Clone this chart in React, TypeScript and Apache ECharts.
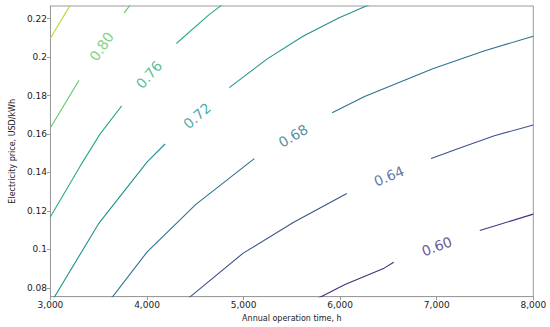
import React, { useEffect, useRef } from "react";
import * as echarts from "echarts";

// Axis ranges and ticks
const xRange = [3000, 8000];
const yRange = [0.0754, 0.2266];
const xTicks = [3000, 4000, 5000, 6000, 7000, 8000];
const yTicks = [0.08, 0.1, 0.12, 0.14, 0.16, 0.18, 0.2, 0.22];

// Contour levels (value of the plotted quantity)
const contourLevels = [0.6, 0.64, 0.68, 0.72, 0.76, 0.8, 0.84];

// Contour paths: [operation time h, price USD/kWh]
// Each level: segment before the inline label, segment after it
const level060Before = [[5770, 0.0745], [5817, 0.0757], [6050, 0.0817], [6455, 0.0902], [6555, 0.0933]];
const level060After = [[7446, 0.1098], [8000, 0.1183]];
const level064Before = [[4427, 0.0745], [4993, 0.0979], [5514, 0.114], [6069, 0.129]];
const level064After = [[6942, 0.1472], [7261, 0.1531], [7597, 0.1591], [8000, 0.1647]];
const level068Before = [[3631, 0.0745], [4002, 0.0987], [4506, 0.1234], [5111, 0.1472]];
const level068After = [[5917, 0.171], [6253, 0.1795], [6959, 0.194], [7496, 0.2033], [8000, 0.2109]];
const level072Before = [[3027, 0.074], [3497, 0.1132], [4002, 0.1455], [4187, 0.1548]];
const level072After = [[4852, 0.1841], [5245, 0.1991], [5615, 0.2109], [5984, 0.2203], [6311, 0.2275]];
const level076Before = [[3000, 0.1169], [3309, 0.1434], [3511, 0.1598], [3738, 0.1746]];
const level076After = [[4304, 0.2071], [4640, 0.222], [4785, 0.2275]];
const level080Before = [[3000, 0.1633], [3296, 0.188]];
const level080After = [[3763, 0.223], [3832, 0.2275]];
const level084Only = [[3000, 0.2098], [3210, 0.2275]];

const contourSegments = [
  [level060Before, level060After],
  [level064Before, level064After],
  [level068Before, level068After],
  [level072Before, level072After],
  [level076Before, level076After],
  [level080Before, level080After],
  [level084Only],
];

// Styles
const levelColors = ["#472c7a", "#3b528b", "#2c728e", "#21918c", "#28ae80", "#5ec962", "#addc30"];
const FONT = "DejaVu Sans";
const FRAME = "#9a9a9a";
const TEXT = "#222222";

export default function App() {
  const ref = useRef<HTMLDivElement>(null);

  useEffect(() => {
    const chart = echarts.init(ref.current!, null, { renderer: "svg" });

    const lineSeries: any[] = [];
    contourSegments.forEach((segs, i) => {
      segs.forEach((seg) => {
        lineSeries.push({
          type: "line",
          data: seg,
          showSymbol: false,
          symbol: "none",
          clip: true,
          silent: true,
          lineStyle: { color: levelColors[i], width: 1.1 },
          emphasis: { disabled: true },
          z: 2,
        });
      });
    });

    const baseOption: any = {
      animation: false,
      grid: {
        left: 37.3,
        right: 16.7,
        top: 6,
        bottom: 25.3,
        show: true,
        borderColor: FRAME,
        borderWidth: 1,
        backgroundColor: "#ffffff",
      },
      xAxis: {
        type: "value",
        min: xRange[0],
        max: xRange[1],
        interval: 1000,
        name: "Annual operation time, h",
        nameLocation: "middle",
        nameGap: 14,
        nameTextStyle: { fontFamily: FONT, fontSize: 8, color: TEXT },
        axisLine: { show: true, lineStyle: { color: FRAME, width: 1 } },
        axisTick: { show: true, length: 3.5, lineStyle: { color: FRAME } },
        axisLabel: {
          fontFamily: FONT,
          fontSize: 9,
          color: TEXT,
          margin: 3.5,
          customValues: xTicks,
          formatter: (v: number) => v.toLocaleString("en-US"),
        },
        splitLine: { show: false },
      },
      yAxis: {
        type: "value",
        min: yRange[0],
        max: yRange[1],
        name: "Electricity price, USD/kWh",
        nameLocation: "middle",
        nameGap: 25,
        nameTextStyle: { fontFamily: FONT, fontSize: 8, color: TEXT },
        axisLine: { show: true, lineStyle: { color: FRAME, width: 1 } },
        axisTick: { show: true, length: 3.5, lineStyle: { color: FRAME }, customValues: yTicks },
        axisLabel: {
          fontFamily: FONT,
          fontSize: 9,
          color: TEXT,
          margin: 3.5,
          customValues: yTicks,
          formatter: (v: number) => String(parseFloat(v.toFixed(4))),
        },
        splitLine: { show: false },
      },
      series: lineSeries,
    };

    chart.setOption(baseOption);

    // Inline contour labels placed in the gaps of each labelled contour
    const labelData: any[] = [];
    contourSegments.forEach((segs, i) => {
      if (segs.length < 2) return;
      const a = segs[0][segs[0].length - 1];
      const b = segs[1][0];
      const pa = chart.convertToPixel({ xAxisIndex: 0, yAxisIndex: 0 }, a) as number[];
      const pb = chart.convertToPixel({ xAxisIndex: 0, yAxisIndex: 0 }, b) as number[];
      const angle = (Math.atan2(-(pb[1] - pa[1]), pb[0] - pa[0]) * 180) / Math.PI;
      labelData.push({
        value: [(a[0] + b[0]) / 2, (a[1] + b[1]) / 2],
        label: {
          rotate: angle,
          color: levelColors[i],
          formatter: contourLevels[i].toFixed(2),
        },
      });
    });

    chart.setOption({
      series: [
        ...lineSeries,
        {
          type: "scatter",
          data: labelData,
          symbolSize: 1,
          silent: true,
          itemStyle: { color: "rgba(0,0,0,0)" },
          label: {
            show: true,
            position: "inside",
            fontFamily: FONT,
            fontSize: 14,
            align: "center",
            verticalAlign: "middle",
          },
          z: 3,
        },
      ],
    });

    return () => chart.dispose();
  }, []);

  return (
    <div
      ref={ref}
      style={{ position: "absolute", left: 0, top: 0, width: 550, height: 327 }}
    />
  );
}
